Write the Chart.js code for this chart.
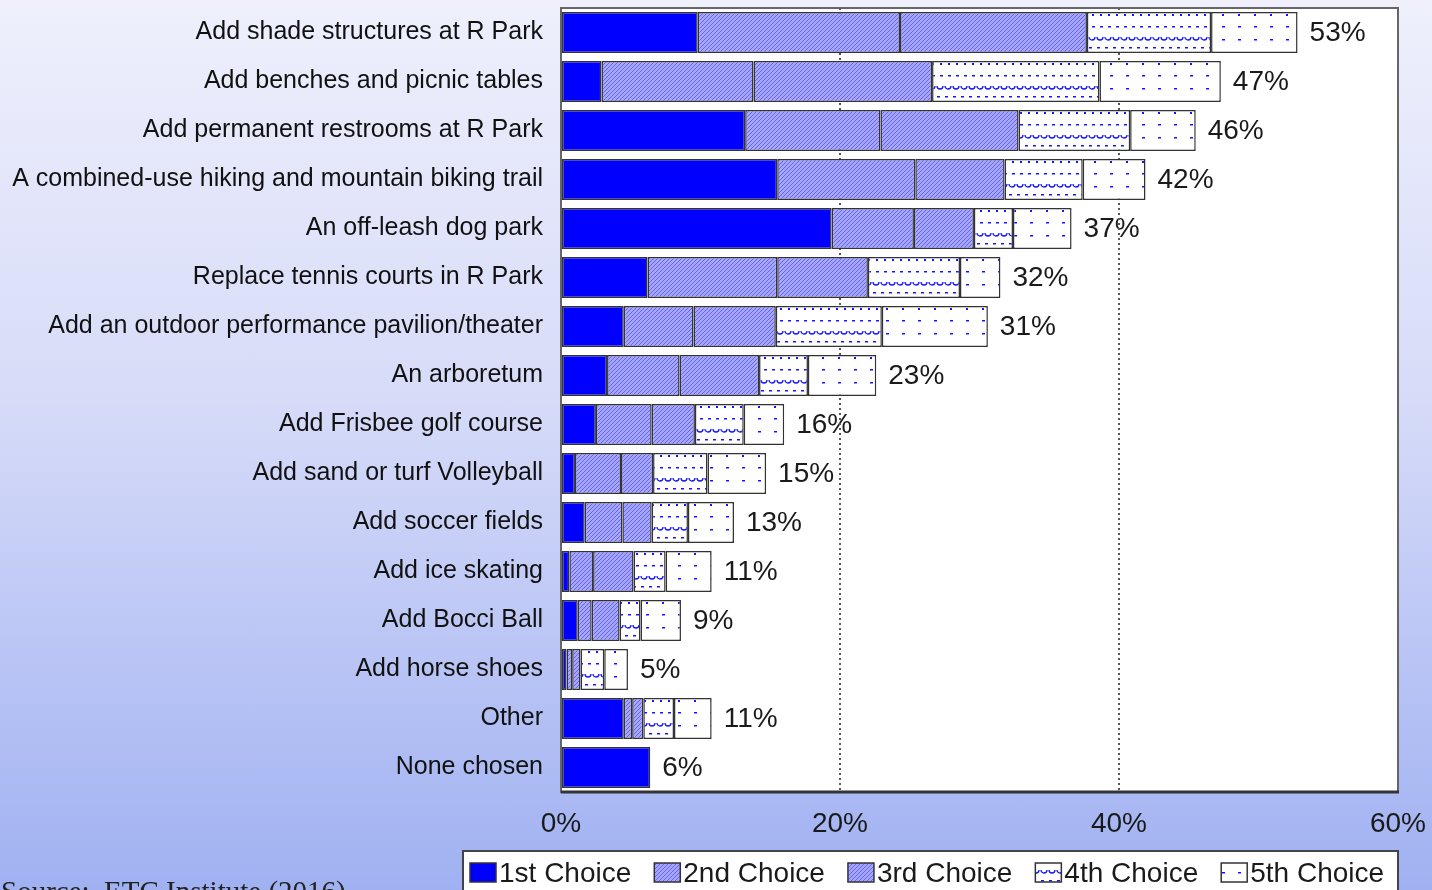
<!DOCTYPE html>
<html>
<head>
<meta charset="utf-8">
<script src="https://cdn.jsdelivr.net/npm/chart.js@4.4.1/dist/chart.umd.min.js"></script>
<style>
  html, body { margin: 0; padding: 0; }
  body {
    width: 1432px; height: 890px; overflow: hidden;
    background: linear-gradient(to bottom, #eff0fc 0%, #d6dbf8 45%, #a0b1f2 100%);
  }
  canvas { display: block; }
</style>
</head>
<body>
<canvas id="choiceChart" width="1432" height="890"></canvas>
<script>
const categories = [
  'Add shade structures at R Park',
  'Add benches and picnic tables',
  'Add permanent restrooms at R Park',
  'A combined-use hiking and mountain biking trail',
  'An off-leash dog park',
  'Replace tennis courts in R Park',
  'Add an outdoor performance pavilion/theater',
  'An arboretum',
  'Add Frisbee golf course',
  'Add sand or turf Volleyball',
  'Add soccer fields',
  'Add ice skating',
  'Add Bocci Ball',
  'Add horse shoes',
  'Other',
  'None chosen'
];
const first  = [9.8, 2.9, 13.2, 15.5, 19.4, 6.2, 4.5, 3.3, 2.5, 1.0, 1.7, 0.6, 1.2, 0.4, 4.5, 6.4];
const second = [14.5, 10.9, 9.7, 9.9, 5.9, 9.3, 5.0, 5.2, 4.0, 3.3, 2.7, 1.7, 1.0, 0.4, 0.6, 0];
const third  = [13.4, 12.8, 9.9, 6.4, 4.3, 6.5, 5.9, 5.7, 3.1, 2.3, 2.1, 2.9, 2.0, 0.6, 0.8, 0];
const fourth = [8.9, 12.0, 8.0, 5.6, 2.8, 6.6, 7.6, 3.5, 3.5, 3.9, 2.6, 2.3, 1.5, 1.7, 2.2, 0];
const fifth  = [6.2, 8.7, 4.7, 4.5, 4.2, 2.9, 7.6, 4.9, 2.9, 4.2, 3.3, 3.3, 2.9, 1.7, 2.7, 0];
const totals = [53, 47, 46, 42, 37, 32, 31, 23, 16, 15, 13, 11, 9, 5, 11, 6];
const seriesNames = ['1st Choice', '2nd Choice', '3rd Choice', '4th Choice', '5th Choice'];

const canvas = document.getElementById('choiceChart');
const ctx = canvas.getContext('2d');

// little tiles for the fill patterns
function makeTile(w, h, draw) {
  const c = document.createElement('canvas');
  c.width = w;
  c.height = h;
  draw(c.getContext('2d'));
  return ctx.createPattern(c, 'repeat');
}

const hatch = makeTile(4, 4, g => {
  g.fillStyle = '#a6a6fc';
  g.fillRect(0, 0, 4, 4);
  g.fillStyle = '#6464f4';
  for (let i = 0; i < 4; i++) g.fillRect(i, 3 - i, 1, 1);
});

const waves = makeTile(16, 49, g => {
  g.fillStyle = '#fff';
  g.fillRect(0, 0, 16, 49);
  g.fillStyle = '#1414ff';
  g.fillRect(4, 14, 2, 2);
  g.fillRect(12, 14, 2, 2);
  g.fillRect(4, 26, 3, 1.5);
  g.fillRect(12, 26, 3, 1.5);
  g.fillRect(1, 47, 3, 1.5);
  g.fillRect(9, 47, 3, 1.5);
  g.strokeStyle = '#1414ff';
  g.lineWidth = 1.3;
  g.beginPath();
  g.arc(4, 37, 3, 0, Math.PI);
  g.moveTo(15, 37);
  g.arc(12, 37, 3, 0, Math.PI);
  g.stroke();
});

const dots = makeTile(16, 49, g => {
  g.fillStyle = '#fff';
  g.fillRect(0, 0, 16, 49);
  g.fillStyle = '#1414ff';
  g.fillRect(6, 14, 2, 2);
  g.fillRect(6, 26, 3, 1.5);
  g.fillRect(6, 39, 3, 1.5);
});

const fills = ['#0000ff', hatch, hatch, waves, dots];
const values = [first, second, third, fourth, fifth];

const decor = {
  id: 'decor',
  beforeDraw(chart) {
    const { ctx, chartArea: a } = chart;
    ctx.save();
    ctx.fillStyle = '#fff';
    ctx.fillRect(a.left, a.top, a.right - a.left, a.bottom - a.top);

    // total labels sit under the dotted grid, as in the original
    ctx.font = '28px "Liberation Sans", Arial, sans-serif';
    ctx.fillStyle = '#1a1a1a';
    ctx.textAlign = 'left';
    ctx.textBaseline = 'middle';
    totals.forEach((t, i) => {
      let end = a.left;
      let y = 0;
      chart.data.datasets.forEach((d, k) => {
        const el = chart.getDatasetMeta(k).data[i];
        y = el.y;
        if (d.data[i] > 0) end = Math.max(end, el.x);
      });
      ctx.fillText(t + '%', end + 12, y + 1);
    });
    ctx.restore();
  },
  afterDraw(chart) {
    const { ctx, chartArea: a } = chart;
    ctx.save();
    // plot frame
    ctx.strokeStyle = '#666';
    ctx.lineWidth = 2;
    ctx.strokeRect(a.left, a.top, a.right - a.left, a.bottom - a.top);
    ctx.strokeStyle = '#333';
    ctx.lineWidth = 3;
    ctx.beginPath();
    ctx.moveTo(a.left, a.bottom);
    ctx.lineTo(a.right + 1, a.bottom);
    ctx.stroke();

    // legend box
    ctx.fillStyle = '#fff';
    ctx.fillRect(463, 851, 935, 50);
    ctx.strokeStyle = '#444';
    ctx.lineWidth = 2;
    ctx.strokeRect(463, 851, 935, 50);
    ctx.font = '28px "Liberation Sans", Arial, sans-serif';
    ctx.textBaseline = 'middle';
    ctx.textAlign = 'left';
    let x = 470;
    chart.data.datasets.forEach(d => {
      ctx.fillStyle = d.backgroundColor;
      ctx.fillRect(x, 863, 26, 19);
      ctx.strokeStyle = '#333';
      ctx.lineWidth = 1.5;
      ctx.strokeRect(x, 863, 26, 19);
      ctx.fillStyle = '#1a1a1a';
      ctx.fillText(d.label, x + 29, 874);
      x += 29 + ctx.measureText(d.label).width + 23;
    });

    // source note, cut by the page edge
    ctx.font = '29px "Liberation Serif", "Times New Roman", serif';
    ctx.fillStyle = '#222';
    ctx.textBaseline = 'alphabetic';
    ctx.fillText('Source:  ETC Institute (2016)', 1, 901);
    ctx.restore();
  }
};

new Chart(ctx, {
  type: 'bar',
  data: {
    labels: categories,
    datasets: values.map((v, k) => ({
      label: seriesNames[k],
      data: v,
      backgroundColor: fills[k],
      borderColor: '#333',
      borderWidth: 1.5,
      borderSkipped: false,
      barPercentage: 0.84,
      categoryPercentage: 1
    }))
  },
  options: {
    indexAxis: 'y',
    responsive: false,
    animation: false,
    events: [],
    layout: { padding: { top: 8, right: 34, bottom: 0, left: 0 } },
    plugins: {
      legend: { display: false },
      tooltip: { enabled: false }
    },
    scales: {
      x: {
        stacked: true,
        min: 0,
        max: 60,
        ticks: {
          stepSize: 20,
          padding: 15,
          color: '#1a1a1a',
          font: { family: '"Liberation Sans", Arial, sans-serif', size: 28 },
          callback: v => v + '%'
        },
        grid: {
          drawTicks: false,
          lineWidth: 2,
          color: c => (c.tick && (c.tick.value === 20 || c.tick.value === 40)) ? '#555' : 'rgba(0,0,0,0)'
        },
        border: { display: false, dash: [2, 3] },
        afterFit: s => { s.height = 98; s.paddingLeft = 0; s.paddingRight = 0; }
      },
      y: {
        stacked: true,
        ticks: {
          autoSkip: false,
          padding: 10,
          color: '#111',
          font: { family: '"Liberation Sans", Arial, sans-serif', size: 25 }
        },
        grid: { display: false },
        border: { display: false },
        afterFit: s => { s.width = 561; s.paddingTop = 0; s.paddingBottom = 0; }
      }
    }
  },
  plugins: [decor]
});
</script>
</body>
</html>
